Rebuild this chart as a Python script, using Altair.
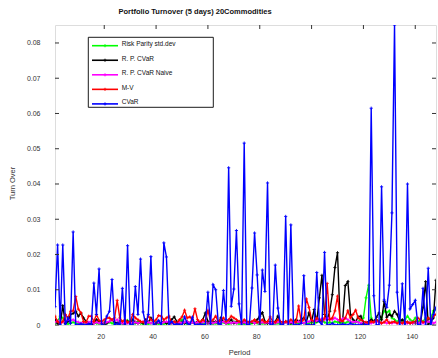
import altair as alt
import pandas as pd

# ---------------- data ----------------
periods = list(range(1, 149))
series_names = ["Risk Parity std.dev", "R. P. CVaR", "R. P. CVaR Naive", "M-V", "CVaR"]
series_colors = ["#00ff00", "#000000", "#ff00ff", "#ff0000", "#0000ff"]
chart_title = "Portfolio Turnover (5 days) 20Commodities"
x_title = "Period"
y_title = "Turn Over"
x_ticks = [20, 40, 60, 80, 100, 120, 140]
y_ticks = [0, 0.01, 0.02, 0.03, 0.04, 0.05, 0.06, 0.07, 0.08]

rp_std = [
    0.0005, 0.0010, 0.0025, 0.0020, 0.0005, 0.0003, 0.0005, 0.0008, 0.0005, 0.0003,
    0.0005, 0.0003, 0.0005, 0.0003, 0.0005, 0.0008, 0.0005, 0.0003, 0.0005, 0.0003,
    0.0005, 0.0008, 0.0005, 0.0003, 0.0005, 0.0003, 0.0005, 0.0008, 0.0013, 0.0005,
    0.0003, 0.0005, 0.0010, 0.0005, 0.0003, 0.0005, 0.0003, 0.0005, 0.0008, 0.0005,
    0.0003, 0.0005, 0.0003, 0.0005, 0.0003, 0.0005, 0.0008, 0.0005, 0.0010, 0.0015,
    0.0005, 0.0003, 0.0005, 0.0010, 0.0005, 0.0003, 0.0005, 0.0003, 0.0005, 0.0008,
    0.0005, 0.0003, 0.0005, 0.0003, 0.0005, 0.0008, 0.0005, 0.0003, 0.0005, 0.0010,
    0.0005, 0.0003, 0.0005, 0.0003, 0.0005, 0.0003, 0.0005, 0.0008, 0.0005, 0.0003,
    0.0005, 0.0003, 0.0005, 0.0008, 0.0005, 0.0003, 0.0005, 0.0003, 0.0005, 0.0008,
    0.0005, 0.0003, 0.0005, 0.0003, 0.0005, 0.0008, 0.0005, 0.0003, 0.0005, 0.0008,
    0.0005, 0.0008, 0.0010, 0.0015, 0.0008, 0.0005, 0.0008, 0.0005, 0.0010, 0.0008,
    0.0005, 0.0008, 0.0005, 0.0010, 0.0008, 0.0005, 0.0008, 0.0010, 0.0015, 0.0020,
    0.0077, 0.0113, 0.0020, 0.0010, 0.0015, 0.0010, 0.0020, 0.0040, 0.0035, 0.0040,
    0.0020, 0.0015, 0.0010, 0.0015, 0.0010, 0.0015, 0.0025, 0.0015, 0.0010, 0.0020,
    0.0010, 0.0015, 0.0010, 0.0020, 0.0015, 0.0020, 0.0040, 0.0045,
]

rp_cvar = [
    0.0015, 0.0005, 0.0000, 0.0055, 0.0005, 0.0010, 0.0030, 0.0033, 0.0039, 0.0025,
    0.0033, 0.0020, 0.0010, 0.0005, 0.0000, 0.0005, 0.0015, 0.0010, 0.0005, 0.0000,
    0.0005, 0.0010, 0.0015, 0.0008, 0.0005, 0.0010, 0.0005, 0.0003, 0.0010, 0.0005,
    0.0015, 0.0008, 0.0005, 0.0010, 0.0005, 0.0015, 0.0008, 0.0020, 0.0010, 0.0005,
    0.0008, 0.0005, 0.0010, 0.0005, 0.0008, 0.0015, 0.0023, 0.0010, 0.0005, 0.0008,
    0.0005, 0.0010, 0.0005, 0.0008, 0.0005, 0.0010, 0.0008, 0.0015, 0.0034, 0.0010,
    0.0005, 0.0008, 0.0010, 0.0005, 0.0020, 0.0010, 0.0005, 0.0008, 0.0015, 0.0005,
    0.0008, 0.0010, 0.0005, 0.0008, 0.0005, 0.0010, 0.0008, 0.0005, 0.0015, 0.0025,
    0.0035, 0.0010, 0.0005, 0.0008, 0.0005, 0.0010, 0.0025, 0.0008, 0.0005, 0.0010,
    0.0010, 0.0005, 0.0008, 0.0015, 0.0010, 0.0015, 0.0020, 0.0010, 0.0034, 0.0010,
    0.0044, 0.0010, 0.0077, 0.0141, 0.0030, 0.0015, 0.0039, 0.0086, 0.0163, 0.0205,
    0.0010, 0.0015, 0.0112, 0.0123, 0.0030, 0.0015, 0.0010, 0.0023, 0.0025, 0.0003,
    0.0005, 0.0010, 0.0015, 0.0010, 0.0022, 0.0034, 0.0015, 0.0067, 0.0022, 0.0030,
    0.0025, 0.0039, 0.0030, 0.0010, 0.0015, 0.0005, 0.0008, 0.0005, 0.0005, 0.0008,
    0.0005, 0.0008, 0.0050, 0.0123, 0.0002, 0.0010, 0.0020, 0.0127,
]

rp_naive = [
    0.0008, 0.0012, 0.0005, 0.0008, 0.0010, 0.0015, 0.0012, 0.0015, 0.0010, 0.0008,
    0.0005, 0.0008, 0.0005, 0.0008, 0.0010, 0.0005, 0.0008, 0.0005, 0.0008, 0.0005,
    0.0008, 0.0010, 0.0015, 0.0012, 0.0015, 0.0008, 0.0005, 0.0008, 0.0005, 0.0008,
    0.0005, 0.0008, 0.0005, 0.0008, 0.0010, 0.0005, 0.0008, 0.0005, 0.0008, 0.0005,
    0.0008, 0.0005, 0.0008, 0.0010, 0.0008, 0.0005, 0.0008, 0.0005, 0.0008, 0.0005,
    0.0008, 0.0010, 0.0005, 0.0008, 0.0005, 0.0008, 0.0005, 0.0008, 0.0010, 0.0005,
    0.0008, 0.0005, 0.0008, 0.0005, 0.0008, 0.0010, 0.0005, 0.0008, 0.0005, 0.0008,
    0.0005, 0.0008, 0.0005, 0.0008, 0.0005, 0.0008, 0.0010, 0.0005, 0.0008, 0.0005,
    0.0008, 0.0005, 0.0008, 0.0005, 0.0008, 0.0005, 0.0008, 0.0010, 0.0005, 0.0008,
    0.0005, 0.0008, 0.0005, 0.0008, 0.0010, 0.0008, 0.0005, 0.0008, 0.0010, 0.0012,
    0.0010, 0.0012, 0.0015, 0.0018, 0.0015, 0.0020, 0.0018, 0.0015, 0.0020, 0.0015,
    0.0012, 0.0018, 0.0020, 0.0015, 0.0010, 0.0008, 0.0010, 0.0008, 0.0005, 0.0008,
    0.0005, 0.0008, 0.0005, 0.0008, 0.0010, 0.0008, 0.0005, 0.0008, 0.0005, 0.0008,
    0.0005, 0.0008, 0.0005, 0.0008, 0.0005, 0.0008, 0.0005, 0.0008, 0.0005, 0.0008,
    0.0005, 0.0008, 0.0005, 0.0008, 0.0010, 0.0008, 0.0005, 0.0008,
]

mv = [
    0.0025, 0.0010, 0.0005, 0.0010, 0.0030, 0.0020, 0.0039, 0.0040, 0.0081, 0.0045,
    0.0035, 0.0010, 0.0008, 0.0025, 0.0025, 0.0010, 0.0030, 0.0013, 0.0010, 0.0015,
    0.0020, 0.0020, 0.0015, 0.0020, 0.0070, 0.0020, 0.0010, 0.0015, 0.0008, 0.0010,
    0.0030, 0.0020, 0.0015, 0.0010, 0.0008, 0.0010, 0.0025, 0.0015, 0.0010, 0.0015,
    0.0027, 0.0025, 0.0015, 0.0020, 0.0025, 0.0008, 0.0010, 0.0005, 0.0015, 0.0023,
    0.0042, 0.0020, 0.0023, 0.0015, 0.0046, 0.0015, 0.0008, 0.0015, 0.0010, 0.0042,
    0.0010, 0.0015, 0.0025, 0.0010, 0.0015, 0.0020, 0.0010, 0.0015, 0.0025, 0.0020,
    0.0015, 0.0010, 0.0008, 0.0015, 0.0010, 0.0008, 0.0010, 0.0015, 0.0008, 0.0010,
    0.0015, 0.0008, 0.0010, 0.0023, 0.0010, 0.0008, 0.0015, 0.0010, 0.0008, 0.0010,
    0.0008, 0.0015, 0.0010, 0.0008, 0.0054, 0.0010, 0.0015, 0.0074, 0.0050, 0.0015,
    0.0010, 0.0020, 0.0015, 0.0010, 0.0020, 0.0118, 0.0015, 0.0020, 0.0040, 0.0082,
    0.0015, 0.0010, 0.0020, 0.0040, 0.0020, 0.0030, 0.0042, 0.0020, 0.0015, 0.0010,
    0.0008, 0.0005, 0.0010, 0.0008, 0.0015, 0.0010, 0.0005, 0.0008, 0.0015, 0.0005,
    0.0008, 0.0010, 0.0005, 0.0008, 0.0005, 0.0010, 0.0008, 0.0005, 0.0008, 0.0010,
    0.0020, 0.0015, 0.0008, 0.0010, 0.0020, 0.0015, 0.0025, 0.0030,
]

cvar = [
    0.0052, 0.0227, 0.0000, 0.0227, 0.0000, 0.0020, 0.0005, 0.0264, 0.0000, 0.0000,
    0.0003, 0.0000, 0.0000, 0.0003, 0.0000, 0.0119, 0.0030, 0.0159, 0.0000, 0.0000,
    0.0025, 0.0039, 0.0129, 0.0000, 0.0005, 0.0000, 0.0104, 0.0000, 0.0225, 0.0000,
    0.0000, 0.0109, 0.0030, 0.0187, 0.0037, 0.0000, 0.0030, 0.0194, 0.0000, 0.0005,
    0.0013, 0.0000, 0.0233, 0.0193, 0.0000, 0.0010, 0.0000, 0.0003, 0.0000, 0.0000,
    0.0023, 0.0005, 0.0000, 0.0022, 0.0000, 0.0000, 0.0003, 0.0000, 0.0000, 0.0093,
    0.0000, 0.0114, 0.0100, 0.0005, 0.0000, 0.0098, 0.0015, 0.0446, 0.0053, 0.0102,
    0.0268, 0.0060, 0.0000, 0.0516, 0.0000, 0.0000, 0.0105, 0.0261, 0.0142, 0.0000,
    0.0156, 0.0095, 0.0403, 0.0000, 0.0000, 0.0170, 0.0048, 0.0000, 0.0000, 0.0308,
    0.0000, 0.0284, 0.0000, 0.0000, 0.0000, 0.0005, 0.0140, 0.0000, 0.0000, 0.0000,
    0.0000, 0.0149, 0.0010, 0.0000, 0.0206, 0.0000, 0.0000, 0.0005, 0.0000, 0.0000,
    0.0000, 0.0003, 0.0000, 0.0000, 0.0005, 0.0000, 0.0000, 0.0000, 0.0000, 0.0003,
    0.0000, 0.0000, 0.0615, 0.0083, 0.0000, 0.0000, 0.0392, 0.0071, 0.0050, 0.0113,
    0.0318, 0.0851, 0.0093, 0.0000, 0.0117, 0.0000, 0.0400, 0.0046, 0.0058, 0.0070,
    0.0000, 0.0000, 0.0104, 0.0000, 0.0161, 0.0000, 0.0030, 0.0050,
]

# ---------------- layout constants ----------------
FONT = "Liberation Sans"
W, H = 381, 300
TXT = "#333333"
PLUS = "M-1,0L1,0M0,-1L0,1"

all_values = [rp_std, rp_cvar, rp_naive, mv, cvar]
rows = []
for name, vals in zip(series_names, all_values):
    for p, v in zip(periods, vals):
        rows.append({"period": p, "value": v, "series": name})
df = pd.DataFrame(rows)

color_scale = alt.Scale(domain=series_names, range=series_colors)
xs = alt.Scale(domain=[min(periods), max(periods)], nice=False, zero=False)
ys = alt.Scale(domain=[0, max(cvar)], nice=False, zero=True)

x_axis = alt.Axis(values=x_ticks, title=x_title, ticks=False, domain=False, grid=False,
                  labelPadding=7, labelOffset=-3.5, labelFontSize=7, labelFont=FONT,
                  labelColor=TXT, titleFont=FONT, titleFontSize=7.5, titleFontWeight="normal",
                  titleColor=TXT, titleX=184, titleY=27, titleBaseline="middle",
                  titleAlign="center")
y_axis = alt.Axis(values=y_ticks, title=y_title, format=".2~f", ticks=False, domain=False,
                  grid=False, labelPadding=15, labelFontSize=7, labelFont=FONT,
                  labelColor=TXT, titleFont=FONT, titleFontSize=7.5, titleFontWeight="normal",
                  titleColor=TXT, titleAngle=270, titleX=-43, titleY=158,
                  titleBaseline="middle", titleAlign="center")

def X(field="period"):
    return alt.X(f"{field}:Q", scale=xs, axis=x_axis)

def Y(field="value"):
    return alt.Y(f"{field}:Q", scale=ys, axis=y_axis)

color_enc = alt.Color("series:N", scale=color_scale, legend=None)

layers = []
for name in series_names:
    base = alt.Chart(df).transform_filter(alt.datum.series == name)
    layers.append(base.mark_line(strokeWidth=1.4, clip=True).encode(x=X(), y=Y(), color=color_enc))
    layers.append(base.mark_point(shape=PLUS, size=10, filled=False, strokeWidth=0.9,
                                  opacity=1, clip=True)
                  .encode(x=X(), y=Y(), color=color_enc))

# inward ticks on all four sides
xt = pd.DataFrame({"t": x_ticks})
yt = pd.DataFrame({"t": y_ticks})
tick_style = dict(color="#333333", strokeWidth=1)
layers.append(alt.Chart(xt).mark_rule(**tick_style).encode(x=X("t"), y=alt.value(H), y2=alt.value(H - 4)))
layers.append(alt.Chart(xt).mark_rule(**tick_style).encode(x=X("t"), y=alt.value(0), y2=alt.value(4)))
layers.append(alt.Chart(yt).mark_rule(**tick_style).encode(y=Y("t"), x=alt.value(0), x2=alt.value(4)))
layers.append(alt.Chart(yt).mark_rule(**tick_style).encode(y=Y("t"), x=alt.value(W), x2=alt.value(W - 4)))

# legend box
one = pd.DataFrame({"a": [0]})
layers.append(alt.Chart(one).mark_rect(fill="white", stroke="#000000", strokeWidth=0.9)
              .encode(x=alt.value(33.3), x2=alt.value(158.3), y=alt.value(12.3), y2=alt.value(82.3)))
for i, name in enumerate(series_names):
    ly = 20.7 + i * 14.55
    ldf = pd.DataFrame({"series": [name]})
    layers.append(alt.Chart(ldf).mark_rule(strokeWidth=1.6)
                  .encode(x=alt.value(37), x2=alt.value(63), y=alt.value(ly), color=color_enc))
    layers.append(alt.Chart(ldf).mark_point(shape=PLUS, size=10, filled=False, strokeWidth=0.9, opacity=1)
                  .encode(x=alt.value(50), y=alt.value(ly), color=color_enc))
    layers.append(alt.Chart(ldf).mark_text(align="left", baseline="middle", fontSize=6.5,
                                            font=FONT, color="#111111", dy=-1.5)
                  .encode(x=alt.value(66.7), y=alt.value(ly), text="series:N"))

# title
tdf = pd.DataFrame({"title": [chart_title]})
layers.append(alt.Chart(tdf).mark_text(align="center", baseline="middle", fontSize=7.5,
                                        fontWeight="bold", font=FONT, color="#111111")
              .encode(x=alt.value(140), y=alt.value(-13), text="title:N"))

chart = (
    alt.layer(*layers)
    .properties(width=W, height=H,
                padding={"left": 55, "top": 25, "right": 2, "bottom": 33},
                autosize=alt.AutoSizeParams(type="none"))
    .configure_view(stroke="#555555", strokeWidth=1)
    .configure(background="white")
)

chart.save("out.html", embed_options={"renderer": "svg", "actions": False})
